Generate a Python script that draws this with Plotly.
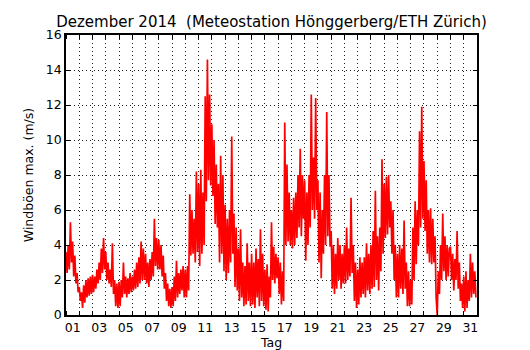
import datetime as dt
import plotly.graph_objects as go

# Wind gust maxima (m/s), 2-hourly readings per day (00h, 02h, ..., 22h)
dec01 = [3.6, 2.4, 4.0, 2.6, 5.3, 3.0, 4.2, 2.2, 3.4, 1.8, 2.4, 1.3]
dec02 = [1.6, 0.8, 1.3, 0.4, 1.7, 0.7, 2.0, 1.0, 2.1, 1.1, 2.2, 1.2]
dec03 = [2.3, 1.3, 2.2, 1.5, 2.6, 1.8, 3.0, 2.0, 3.8, 2.4, 4.4, 2.6]
dec04 = [3.6, 2.0, 3.0, 1.8, 2.6, 1.6, 4.1, 1.2, 2.0, 0.5, 1.8, 0.4]
dec05 = [1.9, 0.5, 2.0, 1.0, 3.0, 1.2, 2.2, 1.0, 2.1, 1.2, 2.4, 1.3]
dec06 = [2.2, 1.4, 2.6, 1.5, 3.0, 1.6, 3.3, 1.8, 4.2, 2.0, 3.8, 2.0]
dec07 = [3.5, 1.8, 3.0, 1.6, 3.2, 2.0, 3.6, 2.2, 5.5, 2.8, 4.4, 2.6]
dec08 = [4.3, 2.6, 4.0, 2.2, 3.4, 1.5, 2.4, 0.8, 1.8, 0.5, 1.5, 0.4]
dec09 = [1.6, 0.5, 2.2, 0.8, 3.1, 1.0, 2.4, 1.2, 2.6, 1.4, 2.8, 1.0]
dec10 = [2.6, 1.0, 2.8, 1.4, 6.9, 3.4, 6.0, 3.5, 5.5, 3.0, 8.2, 3.6]
dec11 = [7.5, 2.8, 8.3, 3.5, 7.0, 4.0, 12.5, 6.5, 14.6, 7.7, 12.6, 7.4]
dec12 = [10.9, 6.8, 10.0, 5.2, 8.6, 5.0, 7.5, 3.0, 9.1, 3.5, 8.0, 2.5]
dec13 = [6.3, 2.0, 5.5, 2.4, 6.0, 3.0, 10.2, 3.5, 5.8, 1.6, 5.0, 1.4]
dec14 = [3.8, 0.8, 4.9, 1.0, 3.0, 0.5, 2.8, 0.6, 4.1, 0.8, 3.0, 0.5]
dec15 = [3.5, 0.6, 3.0, 0.4, 3.8, 1.0, 3.2, 0.5, 4.9, 0.8, 3.5, 0.5]
dec16 = [2.6, 0.3, 2.9, 0.2, 2.2, 1.0, 5.3, 2.0, 3.9, 1.8, 3.5, 2.1]
dec17 = [3.3, 1.2, 3.0, 0.6, 2.5, 0.8, 11.0, 4.0, 8.6, 4.2, 7.0, 4.0]
dec18 = [6.0, 3.8, 6.7, 4.0, 7.0, 4.4, 8.0, 5.0, 9.5, 4.5, 8.0, 5.5]
dec19 = [7.7, 3.1, 7.0, 4.0, 8.0, 5.0, 12.6, 6.0, 9.0, 5.5, 12.4, 6.0]
dec20 = [7.7, 3.0, 7.0, 2.1, 6.0, 3.5, 8.0, 4.0, 11.6, 4.5, 8.0, 3.9]
dec21 = [4.8, 1.5, 4.0, 1.2, 3.5, 1.5, 4.4, 2.0, 4.0, 1.5, 3.5, 1.8]
dec22 = [4.0, 1.8, 5.0, 2.0, 3.8, 2.2, 6.7, 2.4, 4.0, 0.8, 3.0, 0.4]
dec23 = [2.6, 0.6, 3.3, 1.0, 3.0, 1.2, 3.3, 1.0, 4.1, 1.4, 3.5, 1.2]
dec24 = [4.0, 1.5, 4.8, 1.6, 7.1, 2.0, 4.5, 1.4, 5.0, 2.5, 8.9, 3.5]
dec25 = [7.5, 4.4, 7.9, 4.6, 8.0, 5.0, 6.5, 3.5, 6.0, 2.0, 4.0, 1.0]
dec26 = [3.5, 1.0, 4.0, 1.5, 3.8, 1.2, 5.4, 1.5, 3.0, 0.5, 2.5, 0.5]
dec27 = [2.0, 0.6, 5.0, 2.0, 6.5, 2.9, 6.0, 4.0, 10.5, 5.0, 11.9, 5.5]
dec28 = [8.8, 4.8, 7.7, 3.5, 6.0, 3.0, 6.1, 2.9, 5.5, 3.0, 4.5, 1.0]
dec29 = [0.0, 2.5, 1.2, 4.0, 2.0, 5.8, 2.5, 4.5, 2.0, 4.0, 2.2, 3.8]
dec30 = [3.9, 2.0, 3.5, 1.4, 3.2, 2.0, 4.8, 1.5, 3.0, 0.8, 1.8, 0.4]
dec31 = [2.2, 0.2, 2.5, 0.4, 2.0, 0.8, 3.5, 1.0, 3.0, 1.2, 2.5, 1.0]

days = [dec01, dec02, dec03, dec04, dec05, dec06, dec07, dec08, dec09, dec10,
        dec11, dec12, dec13, dec14, dec15, dec16, dec17, dec18, dec19, dec20,
        dec21, dec22, dec23, dec24, dec25, dec26, dec27, dec28, dec29, dec30, dec31]

tick_days = list(range(1, 32, 2))
tick_labels = ["%02d" % d for d in tick_days]
y_ticks = list(range(0, 17, 2))

start = dt.datetime(2014, 12, 1)
xs, ys = [], []
for di, vals in enumerate(days):
    for hi, v in enumerate(vals):
        xs.append(start + dt.timedelta(days=di, hours=2 * hi))
        ys.append(v)

fig = go.Figure()
fig.add_trace(go.Scatter(x=xs, y=ys, mode="lines",
                         line=dict(color="#ff0000", width=1.7),
                         showlegend=False, hoverinfo="skip"))

font = "DejaVu Sans, Liberation Sans, sans-serif"
fig.update_layout(
    width=530, height=350,
    margin=dict(l=66, r=53, t=35, b=35),
    paper_bgcolor="white", plot_bgcolor="white",
    font=dict(family=font, size=12, color="black"),
    title=dict(text="Dezember 2014  (Meteostation Hönggerberg/ETH Zürich)",
               x=0.5, xref="paper", xanchor="center",
               y=1 - 21.5 / 350, yref="container", yanchor="middle",
               font=dict(size=15, family=font, color="black")),
)
fig.update_xaxes(
    type="date",
    range=[start, dt.datetime(2015, 1, 1)],
    tickvals=[start + dt.timedelta(days=d - 1, hours=12) for d in tick_days],
    ticktext=tick_labels,
    ticks="", showgrid=False,
    tickfont=dict(size=12.5),
    showline=True, linecolor="black", linewidth=1.5, mirror="allticks",
    zeroline=False,
    minor=dict(dtick=86400000, tick0=start, ticks="inside", ticklen=4,
               tickcolor="black", showgrid=True, gridcolor="#222222",
               griddash="1px,3px", gridwidth=1),
    title=dict(text="Tag", font=dict(size=12.5), standoff=3),
    automargin=False,
)
fig.update_yaxes(
    range=[0, 16], tickvals=y_ticks,
    ticks="inside", ticklen=4, tickcolor="black",
    tickfont=dict(size=12.5),
    showgrid=True, gridcolor="#222222", griddash="1px,3px", gridwidth=1,
    showline=True, linecolor="black", linewidth=1.5, mirror="allticks",
    zeroline=False,
    title=dict(text="Windböen max. (m/s)", font=dict(size=12.5), standoff=9),
    automargin=False,
)
fig.write_html("out.html",
               config={"displayModeBar": False},
               post_script="document.body.style.margin='0';document.body.style.overflow='hidden';")
